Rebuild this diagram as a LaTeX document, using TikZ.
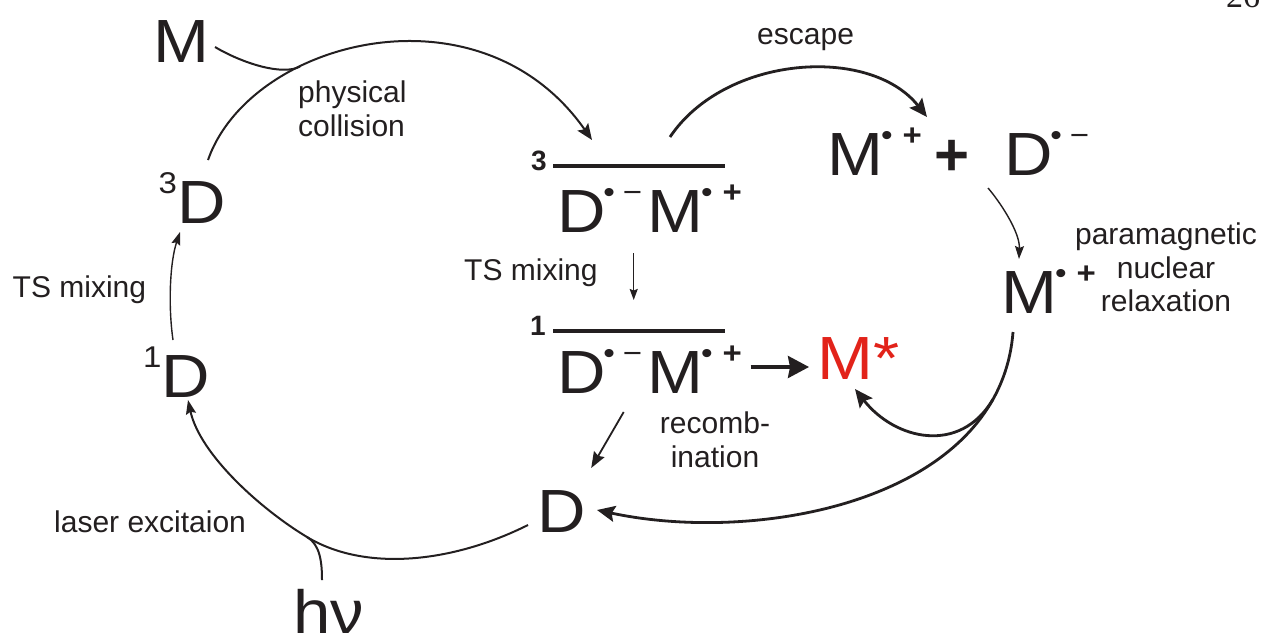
\documentclass[tikz,border=0pt]{standalone}
\usepackage{fontspec}
\setmainfont{Liberation Sans}
\newfontfamily\bigfont[FakeStretch=1.1]{Liberation Sans}
\newfontfamily\numfont{Liberation Serif}
\usetikzlibrary{arrows.meta,calc}

\definecolor{ink}{RGB}{35,31,32}
\definecolor{mred}{RGB}{226,35,26}

\newcommand\bigsz{\bigfont\fontsize{61}{61}\selectfont}
\newcommand\smsz{\fontsize{30}{33.3}\selectfont}
% raised radical / charge marks
\newcommand\rad[1]{\raisebox{30pt}{\fontsize{30}{30}\selectfont #1}}
\newcommand\Drad{D\kern-3pt\rad{•}\kern8pt\rad{−}}
\newcommand\Mrad{M\kern-2pt\rad{•}\kern10pt\rad{\bfseries +}}

\tikzset{
  txt/.style={inner sep=0pt, anchor=base west, text=ink},
  big/.style={txt, font=\bigsz},
  lbl/.style={txt, font=\smsz},
  levelno/.style={txt, font=\bfseries\fontsize{28}{28}\selectfont},
  level/.style={draw=ink, line width=4pt},
  thin/.style={draw=ink, line width=1.4pt, -{Stealth[length=13pt,width=9pt,inset=2pt]}},
  mid/.style={draw=ink, line width=2pt},
  midarrow/.style={mid, -{Stealth[length=16pt,width=13pt,inset=3pt]}},
  thick/.style={draw=ink, line width=2.8pt, -{Stealth[length=18pt,width=16pt,inset=3pt]}},
  heavy/.style={draw=ink, line width=3.2pt, -{Stealth[length=21pt,width=22pt,inset=2pt]}},
}

\begin{document}
\begin{tikzpicture}[x=1pt, y=-1pt]
\fill[white] (0,0) rectangle (1265,632);
\useasboundingbox (0,0) rectangle (1265,632);

% species
\node[big] (M)   at (153,62)    {M};
\node[big] (D3)  at (158.5,223) {\rad{3}D};
\node[big] (D1)  at (143,397)   {\rad{1}D};
\node[big] (D0)  at (537.7,532) {D};
\node[big] (hv)  at (293,633)   {hν};
\node[big] (RP3) at (557.7,232) {\Drad\kern5pt\Mrad};
\node[big] (RP1) at (557.7,393) {\Drad\kern5pt\Mrad};
\node[big, text=mred] (Mx) at (817,379) {M*};
\node[big] (Mc)  at (827,175)   {\Mrad};
\node[txt, anchor=base, font=\bfseries\fontsize{60}{60}\selectfont] (pl) at (952,175) {+};
\node[big] (Da)  at (1004.7,175) {\Drad};
\node[big] (Mc2) at (1001,313)  {\Mrad};

% spin levels of the radical pair
\node[levelno] (n3) at (531,170) {3};
\node[levelno] (n1) at (530,335) {1};
\coordinate (l3a) at (553,166);
\coordinate (l3b) at (725,166);
\coordinate (l1a) at (553,331);
\coordinate (l1b) at (725,331);
\draw[level] (l3a) -- (l3b);
\draw[level] (l1a) -- (l1b);

% process labels (multi-line nodes sit on the baseline of their last line)
\node[lbl, align=left] (phys) at (298,136) {physical\\collision};
\node[lbl] (esc)  at (757,44)   {escape};
\node[lbl] (ts1)  at (12.5,297) {TS mixing};
\node[lbl] (ts2)  at (464,280)  {TS mixing};
\node[lbl, align=center, anchor=base] (rec) at (715,467) {recomb-\\ination};
\node[lbl, align=center, anchor=base] (pnr) at (1166,311.5) {paramagnetic\\nuclear\\relaxation};
\node[lbl] (las)  at (54,532)   {laser excitaion};
\node[txt, font=\numfont\fontsize{34}{34}\selectfont] (pg) at (1226,7) {26};

% physical collision of 3D with M
\draw[midarrow] ($(D3.base west)+(49.5,-63)$) .. controls (250,40) and (480,-20) ..
  ($(l3a)+(39,-26)$) coordinate[pos=0.33] (mjoin);
\draw[mid] ($(M.base west)+(62,-15)$) .. controls (242,63) and (282,76) .. (mjoin);

% intersystem crossing of the donor
\draw[thin] ($(D1.base west)+(30,-57)$) .. controls (168,305) and (170,262) .. ($(D3.base west)+(21.5,9)$);

% laser excitation D -> 1D
\draw[draw=ink, line width=2pt, -{Stealth[length=14pt,width=10pt,inset=2pt]}]
  ($(D0.base west)+(-9.7,-7)$) .. controls (452,563) and (365,572) .. (307,537) coordinate (hvjoin)
  .. controls (262,510) and (200,455) .. ($(D1.base west)+(45,3)$);
\draw[mid] ($(hv.base west)+(29,-53)$) .. controls (322,562) and (320,544.5) .. (hvjoin);

% escape of the radical pair
\draw[thick] ($(l3b)+(-55,-29)$) .. controls (725,55) and (870,45) .. ($(pl.base)+(-25,-58)$);

% D radical anion -> M radical cation
\draw[thin] ($(Da.base west)+(-16.7,13)$) .. controls (1000,202) and (1020,232) .. ($(Mc2.base west)+(18,-54)$);

% return of the free radical cation
\draw[thick] ($(Mc2.base west)+(12,19)$) .. controls (1000,500) and (760,545) ..
  ($(D0.base west)+(59.3,-22)$) coordinate[pos=0.15] (fork);
\draw[thick] (fork) .. controls (960,455) and (895,440) .. ($(Mx.base west)+(38,10)$);

% singlet pair: recombination products
\draw[heavy] ($(RP1.base west)+(193,-26)$) -- ($(Mx.base west)+(-8,-12)$);
\draw[draw=ink, line width=1.8pt, -{Stealth[length=16pt,width=12pt,inset=2pt]}]
  ($(RP1.base west)+(66,19)$) -- ($(D0.base west)+(53.5,-64)$);

% triplet -> singlet mixing
\draw[draw=ink, line width=1.3pt, -{Stealth[length=11pt,width=8pt,inset=1.5pt]}]
  ($(RP3.base west)+(76,21)$) -- ($(l1a)+(80.7,-31)$);
\end{tikzpicture}
\end{document}
